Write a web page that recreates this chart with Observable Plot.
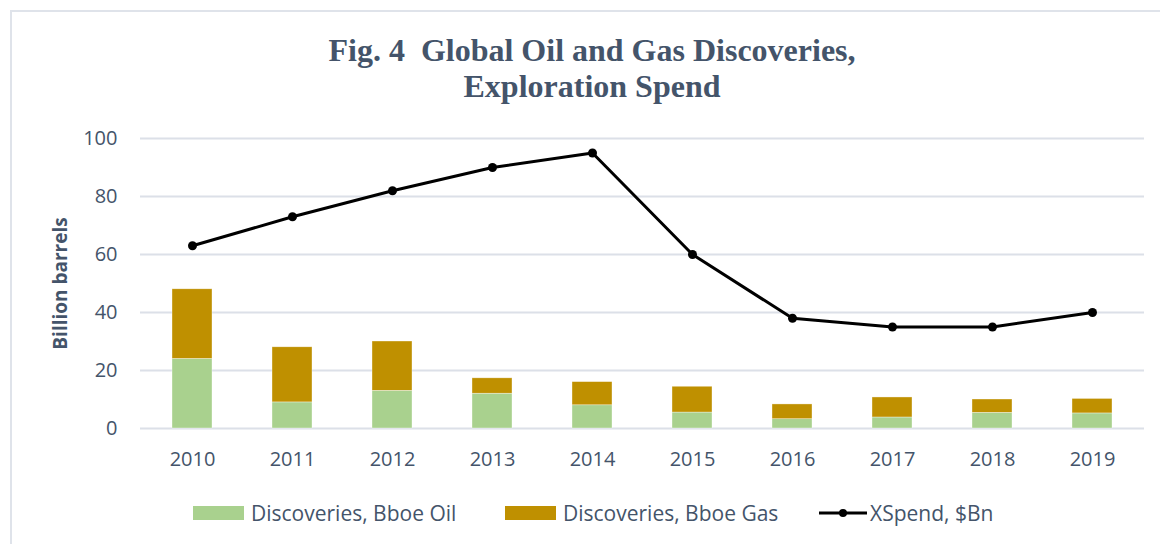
<!DOCTYPE html>
<html>
<head>
<meta charset="utf-8">
<script src="https://cdn.jsdelivr.net/npm/d3@7"></script>
<script src="https://cdn.jsdelivr.net/npm/@observablehq/plot@0.6"></script>
<style>
  html, body { margin: 0; padding: 0; background: #fff; }
  #wrap { position: relative; width: 1160px; height: 544px; overflow: hidden; background: #fff; }
  #frame { position: absolute; left: 10px; top: 10px; width: 2000px; height: 2000px; border: 2px solid #DFE3EA; box-sizing: border-box; }
  #title { position: absolute; left: 0; top: 32px; width: 1184px; text-align: center;
           font-family: "Liberation Serif", serif; font-weight: bold; font-size: 32px; line-height: 36px; color: #44546A; }
  #chart { position: absolute; left: 0; top: 125px; }
  .leg { position: absolute; top: 500px; height: 26px; display: flex; align-items: center;
         font-family: "Open Sans", sans-serif; font-size: 21px; color: #44546A; white-space: nowrap; }
  .sw { width: 51px; height: 14px; margin-right: 7px; }
</style>
</head>
<body>
<div id="wrap">
  <div id="frame"></div>
  <div id="title">Fig. 4&nbsp; Global Oil and Gas Discoveries,<br>Exploration Spend</div>
  <div id="chart"></div>
  <div class="leg" style="left:193px"><div class="sw" style="background:#A9D18E"></div>Discoveries, Bboe Oil</div>
  <div class="leg" style="left:505px"><div class="sw" style="background:#BF9000"></div>Discoveries, Bboe Gas</div>
  <div class="leg" style="left:818px"><svg width="50" height="14" style="margin-right:2px"><line x1="1" y1="7" x2="49" y2="7" stroke="#000" stroke-width="3"/><circle cx="25" cy="7" r="4" fill="#000"/></svg>XSpend, $Bn</div>
</div>
<script>
const years = ["2010","2011","2012","2013","2014","2015","2016","2017","2018","2019"];
const oil = [24, 9, 13, 12, 8, 5.5, 3.2, 3.8, 5.4, 5.2];
const gas = [24, 19, 17, 5.3, 8, 8.9, 5.1, 6.9, 4.6, 5.0];
const xspend = [63, 73, 82, 90, 95, 60, 38, 35, 35, 40];
const yTicks = [0, 20, 40, 60, 80, 100];
const seriesNames = ["Discoveries, Bboe Oil", "Discoveries, Bboe Gas"];
const seriesColors = ["#A9D18E", "#BF9000"];

const bars = [
  ...years.map((y, i) => ({year: y, series: seriesNames[0], value: oil[i]})),
  ...years.map((y, i) => ({year: y, series: seriesNames[1], value: gas[i]}))
];
const spend = years.map((y, i) => ({year: y, value: xspend[i]}));

const chart = Plot.plot({
  width: 1160,
  height: 355,
  marginTop: 13,
  marginBottom: 52,
  marginLeft: 140,
  marginRight: 16,
  style: {fontFamily: "Open Sans, sans-serif", fontSize: "20px", color: "#44546A", background: "transparent"},
  x: {type: "band", domain: years, paddingInner: 0.6, paddingOuter: 0.3, label: null},
  y: {domain: [0, 100], label: null},
  color: {domain: seriesNames, range: seriesColors},
  marks: [
    Plot.gridY(yTicks, {stroke: "#DCE0E8", strokeOpacity: 1, strokeWidth: 2}),
    Plot.axisY(yTicks, {tickSize: 0, tickPadding: 23, label: null}),
    Plot.axisX({tickSize: 0, tickPadding: 23, label: null}),
    Plot.barY(bars, {x: "year", y: "value", fill: "series", stroke: "#fff", strokeWidth: 0.6, strokeOpacity: 0.6}),
    Plot.line(spend, {x: "year", y: "value", stroke: "#000", strokeWidth: 3}),
    Plot.dot(spend, {x: "year", y: "value", r: 4.5, fill: "#000"}),
    Plot.text(["Billion barrels"], {frameAnchor: "left", dx: -80, rotate: -90, textAnchor: "middle", fontWeight: "bold", fontSize: 19, fill: "#44546A"})
  ]
});
document.getElementById("chart").appendChild(chart);
</script>
</body>
</html>
